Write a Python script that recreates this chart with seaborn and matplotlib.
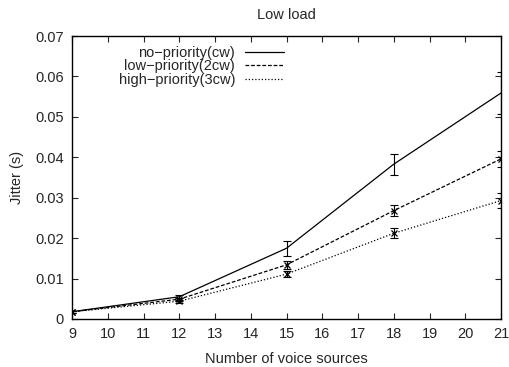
import numpy as np
import pandas as pd
import matplotlib
matplotlib.use("Agg")
import matplotlib.pyplot as plt
import seaborn as sns

sources = [9, 12, 15, 18, 21]
series_names = ["no\u2212priority(cw)", "low\u2212priority(2cw)", "high\u2212priority(3cw)"]
no_priority = [0.0018, 0.0055, 0.0175, 0.0383, 0.0559]
no_priority_err = [0.0002, 0.0004, 0.0018, 0.0026, 0.0052]
low_priority = [0.0018, 0.0049, 0.0134, 0.0268, 0.0396]
low_priority_err = [0.0002, 0.0004, 0.0010, 0.0014, 0.0020]
high_priority = [0.0018, 0.0044, 0.0111, 0.0212, 0.0293]
high_priority_err = [0.0002, 0.0004, 0.0007, 0.0012, 0.0018]
y_ticks = [0, 0.01, 0.02, 0.03, 0.04, 0.05, 0.06, 0.07]
y_tick_labels = ["0", "0.01", "0.02", "0.03", "0.04", "0.05", "0.06", "0.07"]


def main():
    sns.set_style("ticks")
    plt.rcParams['font.family'] = ['Liberation Sans', 'DejaVu Sans']

    rows = []
    for name, vals, errs in zip(series_names,
                                [no_priority, low_priority, high_priority],
                                [no_priority_err, low_priority_err, high_priority_err]):
        for x, v, e in zip(sources, vals, errs):
            rows.append({"sources": x, "jitter": v, "err": e, "series": name})
    df = pd.DataFrame(rows)

    fig = plt.figure(figsize=(5.09, 3.67), dpi=100)
    ax = fig.add_axes([0.1415, 0.1308, 0.8428, 0.7711])

    dash_map = {
        series_names[0]: "",
        series_names[1]: (3, 1.5),
        series_names[2]: (1, 1.6),
    }
    sns.lineplot(data=df, x="sources", y="jitter", style="series", dashes=dash_map,
                 color="black", linewidth=0.9, ax=ax, legend=True)

    markers = [None, "x", "x"]
    for name, m in zip(series_names, markers):
        sub = df[df["series"] == name]
        ax.errorbar(sub["sources"], sub["jitter"], yerr=sub["err"], fmt="none",
                    ecolor="black", elinewidth=0.8, capsize=3, capthick=0.8)
        if m:
            ax.plot(sub["sources"], sub["jitter"], linestyle="none", marker=m,
                    markersize=4, color="black", markeredgewidth=0.9)

    ax.set_xlim(9, 21)
    ax.set_ylim(0, 0.07)
    ax.set_xticks(range(9, 22))
    ax.set_yticks(y_ticks)
    ax.set_yticklabels(y_tick_labels)
    ax.tick_params(direction="in", length=4, width=0.8, top=True, right=True,
                   labelsize=10.5, pad=6)
    for sp in ax.spines.values():
        sp.set_linewidth(1.0)
        sp.set_color("black")

    ax.set_title("Low load", fontsize=10.5, pad=12)
    ax.set_xlabel("Number of voice sources", fontsize=10.5, labelpad=8)
    ax.set_ylabel("Jitter (s)", fontsize=10.5, labelpad=8)

    handles, labels = ax.get_legend_handles_labels()
    ax.legend(handles[:3], labels[:3], loc="upper left", bbox_to_anchor=(0.085, 1.0),
              frameon=False, markerfirst=False, fontsize=10.5, handlelength=2.67,
              handletextpad=0.7, labelspacing=-0.05, borderaxespad=0.3)

    fig.savefig("out.png", dpi=100)
    plt.close(fig)


if __name__ == "__main__":
    main()
